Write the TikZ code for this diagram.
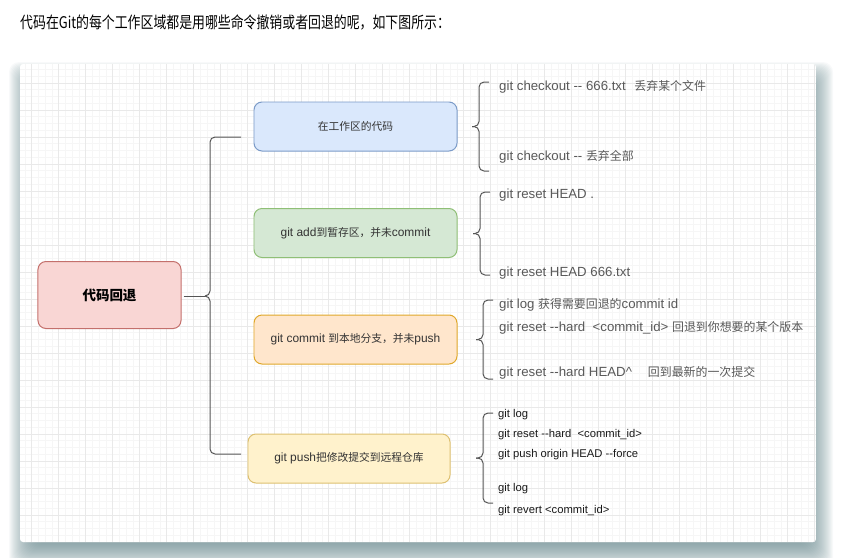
\documentclass[tikz,border=0pt]{standalone}
\usepackage{fontspec}
\setmainfont{Liberation Sans}
\newfontfamily\cjk[Scale=0.9]{Noto Sans CJK SC}
\newfontfamily\titlefont{Noto Sans CJK SC}
\newcommand\zh[1]{{\cjk #1}}
\usepackage{xcolor}
\usetikzlibrary{positioning}

\definecolor{rootfill}{HTML}{F9D6D4} \definecolor{rootdraw}{HTML}{C4706C}
\definecolor{bluefill}{HTML}{DAE8FC} \definecolor{bluedraw}{HTML}{7B9BC8}
\definecolor{greenfill}{HTML}{D5E8D4} \definecolor{greendraw}{HTML}{8FBF76}
\definecolor{orangefill}{HTML}{FFE6CC} \definecolor{orangedraw}{HTML}{E0A82A}
\definecolor{yellowfill}{HTML}{FFF2CC} \definecolor{yellowdraw}{HTML}{DDC070}
\definecolor{cmdgray}{HTML}{595959} \definecolor{boxtext}{HTML}{333333}
\definecolor{bracegray}{HTML}{555555} \definecolor{shadowc}{HTML}{5B7E84}
\definecolor{gridlight}{HTML}{F6F6F6} \definecolor{griddark}{HTML}{E9E9E9}

\tikzset{
  box/.style={draw, rounded corners=0.24cm, line width=0.85pt, minimum width=6.09cm,
    minimum height=1.47cm, inner sep=0pt, text=boxtext, font=\fontsize{10.2}{12}\selectfont},
  cmd/.style={anchor=west, inner sep=0pt, text=cmdgray, font=\fontsize{11.3}{13}\selectfont},
  cmdsmall/.style={anchor=west, inner sep=0pt, text=black!90, font=\fontsize{9.6}{11}\selectfont},
  brace/.style={draw=bracegray, line width=0.85pt, rounded corners=0.15cm},
  gridminor/.style={draw=gridlight, line width=0.5pt},
  gridmajor/.style={draw=griddark, line width=0.7pt},
}

% name, tip x, top y, bottom y
\newcommand\cmdbrace[4]{%
  \coordinate (#1tip) at (#2,{(#3+#4)/2});
  \coordinate (#1top) at ({#2+17},#3); \coordinate (#1bot) at ({#2+17},#4);
  \draw[brace] (#1top) -- ({#2+7},#3) -- ({#2+7},{(#3+#4)/2}) -- (#1tip);
  \draw[brace] (#1bot) -- ({#2+7},#4) -- ({#2+7},{(#3+#4)/2}) -- (#1tip);
}

\begin{document}
\begin{tikzpicture}[x=0.03cm, y=-0.03cm]
\useasboundingbox (0,0) rectangle (844,557);

%heading
\node[anchor=west, inner sep=0pt, yscale=1.25, transform shape,
  font=\titlefont\fontsize{11}{13}\selectfont] (title) at (20,22)
  {代码在Git的每个工作区域都是用哪些命令撤销或者回退的呢，如下图所示：};

%panel shadow
\foreach \i in {-14,...,14}
  \fill[shadowc, opacity=0.045, rounded corners=0.3cm] ({23-\i},{76-\i}) rectangle ({819+\i},{554+\i});

%panel with grid
\begin{scope}
\clip[rounded corners=0.09cm] (20,64) rectangle (816,542);
\fill[white] (20,64) rectangle (816,542);
\foreach \k in {0,...,117} \draw[gridminor] ({25+6.75*\k},64) -- ++(0,478);
\foreach \k in {0,...,70} \draw[gridminor] (20,{69.5+6.75*\k}) -- ++(796,0);
\foreach \k in {0,...,29} \draw[gridmajor] ({31.75+27*\k},64) -- ++(0,478);
\foreach \k in {0,...,17} \draw[gridmajor] (20,{83+27*\k}) -- ++(796,0);
\end{scope}

%root and stages
\node[box, fill=rootfill, draw=rootdraw, minimum width=4.29cm, minimum height=2.01cm, text=black,
  font=\fontsize{12.8}{15}\selectfont\bfseries] (root) at (109.5,295) {\zh{代码回退}};
\node[box, fill=bluefill, draw=bluedraw] (work) at (355.5,126.5) {\zh{在工作区的代码}};
\node[box, fill=greenfill, draw=greendraw] (stage) at (355.5,233) {git add\zh{到暂存区，并未}commit};
\node[box, fill=orangefill, draw=orangedraw] (local) at (355.5,339.5) {git commit \zh{到本地分支，并未}push};
\node[box, fill=yellowfill, draw=yellowdraw, minimum width=6.06cm] (remote) at (349,458.5) {git push\zh{把修改提交到远程仓库}};

%big bracket
\coordinate (hubtip) at (205,296);
\coordinate (armtop) at (241,137); \coordinate (armbot) at (241,454);
\draw[brace, shorten <=0.06cm] (root.east |- hubtip) -- (hubtip);
\draw[brace] (armtop) -- (210,137) -- (210,296) -- (hubtip);
\draw[brace] (armbot) -- (210,454) -- (210,296) -- (hubtip);

%command brackets
\cmdbrace{work}{472}{82}{171}
\cmdbrace{stage}{473}{192}{275}
\cmdbrace{local}{476}{300}{379}
\cmdbrace{remote}{476}{413}{503}

%commands
\node[cmd] (co1) at (499,87) {git checkout -{}- 666.txt\hspace{2.6mm}\zh{丢弃某个文件}};
\node[cmd] (co2) at (499,157) {git checkout -{}- \zh{丢弃全部}};
\node[cmd] (rs1) at (499,195) {git reset HEAD .};
\node[cmd] (rs2) at (499,273) {git reset HEAD 666.txt};
\node[cmd] (lg1) at (499,305) {git log \zh{获得需要回退的}commit id};
\node[cmd] (hd1) at (499,328) {git reset -{}-hard~~<commit\_id> \zh{回退到你想要的某个版本}};
\node[cmd] (hd2) at (499,373) {git reset -{}-hard HEAD\textasciicircum\hspace{4.8mm}\zh{回到最新的一次提交}};
\node[cmdsmall] (lg2) at (498,415) {git log};
\node[cmdsmall] (hd3) at (498,435) {git reset -{}-hard~~<commit\_id>};
\node[cmdsmall] (ps) at (498,455) {git push origin HEAD -{}-force};
\node[cmdsmall] (lg3) at (498,489) {git log};
\node[cmdsmall] (rv) at (498,511) {git revert <commit\_id>};
\end{tikzpicture}
\end{document}
